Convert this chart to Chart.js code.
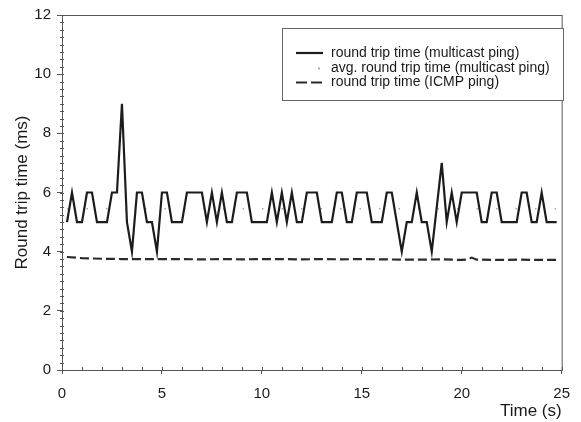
<!DOCTYPE html>
<html>
<head>
<meta charset="utf-8">
<script src="https://cdn.jsdelivr.net/npm/chart.js@4.4.1/dist/chart.umd.min.js"></script>
<style>
    html, body { margin: 0; padding: 0; background: #fff; }
    #wrap { width: 581px; height: 422px; }
</style>
</head>
<body>
<div id="wrap"><canvas id="rttChart" width="581" height="422"></canvas></div>
<script>
// multicast ping round trip time (ms), sampled roughly every 0.25 s
const multicastTime = [0.25, 0.5, 0.75, 1, 1.25, 1.5, 1.75, 2, 2.25, 2.5, 2.75, 3, 3.25, 3.5, 3.75, 4,
    4.25, 4.5, 4.75, 5, 5.25, 5.5, 5.75, 6, 6.25, 6.5, 6.75, 7, 7.25, 7.5, 7.75, 8,
    8.25, 8.5, 8.75, 9, 9.25, 9.5, 9.75, 10, 10.25, 10.5, 10.75, 11, 11.25, 11.5, 11.75, 12,
    12.25, 12.5, 12.75, 13, 13.25, 13.5, 13.75, 14, 14.25, 14.5, 14.75, 15, 15.25, 15.5, 15.75, 16,
    16.25, 16.5, 17, 17.25, 17.5, 17.75, 18, 18.25, 18.5, 19, 19.25, 19.5, 19.75, 20,
    20.25, 20.5, 20.75, 21, 21.25, 21.5, 21.75, 22, 22.25, 22.5, 22.75, 23, 23.25, 23.5, 23.75, 24,
    24.25, 24.5, 24.75];
const multicastRtt = [5, 6, 5, 5, 6, 6, 5, 5, 5, 6, 6, 9, 5, 4, 6, 6,
    5, 5, 4, 6, 6, 5, 5, 5, 6, 6, 6, 6, 5, 6, 5, 6,
    5, 5, 6, 6, 6, 5, 5, 5, 5, 6, 5, 6, 5, 6, 5, 5,
    6, 6, 6, 5, 5, 5, 6, 6, 5, 5, 6, 6, 6, 5, 5, 5,
    6, 6, 4, 5, 5, 6, 5, 5, 4, 7, 5, 6, 5, 6,
    6, 6, 6, 5, 5, 6, 6, 5, 5, 5, 5, 6, 6, 5, 5, 6,
    5, 5, 5];

// average multicast round trip time
const avgTime = [0.25, 24.75];
const avgRtt = [5.45, 5.45];

// ICMP ping round trip time (ms)
const icmpTime = [0.25, 1, 2, 3, 4, 5, 6, 7, 8, 9, 10, 11, 12, 13, 14, 15, 16, 17, 18, 19, 20,
    20.25, 20.5, 20.75, 21, 22, 23, 24, 24.75];
const icmpRtt = [3.82, 3.78, 3.76, 3.75, 3.75, 3.75, 3.75, 3.74, 3.75, 3.74, 3.75, 3.75, 3.74, 3.75,
    3.74, 3.75, 3.74, 3.73, 3.73, 3.74, 3.72, 3.73, 3.8, 3.73, 3.73, 3.72, 3.73, 3.72, 3.72];

const xTicks = [0, 5, 10, 15, 20, 25];
const yTicks = [0, 2, 4, 6, 8, 10, 12];

const legendLabels = [
    'round trip time (multicast ping)',
    'avg. round trip time (multicast ping)',
    'round trip time (ICMP ping)'
];

const FONT = '"Liberation Sans", Arial, sans-serif';
const INK = '#1a1a1a';
const AXIS = '#555';

const toPoints = (xs, ys) => xs.map((x, i) => ({ x: x, y: ys[i] }));

// frame, minor ticks and the boxed legend
const decorPlugin = {
    id: 'decor',
    afterDraw(chart) {
        const ctx = chart.ctx;
        const a = chart.chartArea;
        const xs = chart.scales.x;
        const ys = chart.scales.y;
        ctx.save();
        ctx.strokeStyle = AXIS;
        ctx.lineWidth = 1;
        ctx.strokeRect(a.left + 0.5, a.top + 0.5, a.right - a.left, a.bottom - a.top);

        // minor ticks
        ctx.beginPath();
        for (let v = 0; v <= 25; v += 1) {
            const px = Math.round(xs.getPixelForValue(v)) + 0.5;
            ctx.moveTo(px, a.bottom);
            ctx.lineTo(px, a.bottom - 3);
        }
        for (let v = 0; v <= 12; v += 0.25) {
            const py = Math.round(ys.getPixelForValue(v)) + 0.5;
            ctx.moveTo(a.left - 2, py);
            ctx.lineTo(a.left + 2, py);
        }
        ctx.stroke();

        // legend box
        const bx = 282, by = 28, bw = 281, bh = 72;
        ctx.fillStyle = '#fff';
        ctx.fillRect(bx, by, bw, bh);
        ctx.strokeStyle = '#666';
        ctx.strokeRect(bx + 0.5, by + 0.5, bw, bh);

        const rows = [53, 68.5, 82.5];
        const sets = chart.data.datasets;
        ctx.font = '14px ' + FONT;
        ctx.textBaseline = 'middle';
        rows.forEach((ry, i) => {
            const ds = sets[i];
            ctx.strokeStyle = ds.borderColor;
            ctx.lineWidth = ds.borderWidth;
            ctx.setLineDash(i === 2 ? [11, 4] : []);
            if (i === 1) {
                ctx.fillStyle = ds.borderColor;
                ctx.fillRect(318, ry - 1, 2, 2);
            } else {
                ctx.beginPath();
                ctx.moveTo(296, ry);
                ctx.lineTo(323, ry);
                ctx.stroke();
            }
            ctx.setLineDash([]);
            ctx.fillStyle = INK;
            ctx.fillText(legendLabels[i], 331, ry);
        });
        ctx.restore();
    }
};

new Chart(document.getElementById('rttChart'), {
    type: 'line',
    data: {
        datasets: [{
            label: legendLabels[0],
            data: toPoints(multicastTime, multicastRtt),
            borderColor: '#1c1c1c',
            borderWidth: 2.2,
            pointRadius: 0,
            tension: 0
        }, {
            label: legendLabels[1],
            data: toPoints(avgTime, avgRtt),
            borderColor: '#a8a8a8',
            borderWidth: 1.5,
            borderDash: [1.5, 18],
            pointRadius: 0
        }, {
            label: legendLabels[2],
            data: toPoints(icmpTime, icmpRtt),
            borderColor: '#2a2a2a',
            borderWidth: 2.2,
            borderDash: [9, 4],
            pointRadius: 0,
            tension: 0
        }]
    },
    options: {
        responsive: false,
        animation: false,
        parsing: false,
        layout: { padding: { top: 13, right: 9, left: 0, bottom: 0 } },
        plugins: { legend: { display: false }, tooltip: { enabled: false } },
        scales: {
            x: {
                type: 'linear',
                min: 0,
                max: 25,
                afterBuildTicks: s => { s.ticks = xTicks.map(v => ({ value: v })); },
                afterFit: s => { s.height = 52; },
                ticks: { color: INK, font: { family: FONT, size: 15 }, padding: 11, maxRotation: 0 },
                grid: { drawOnChartArea: false, drawTicks: true, tickLength: 4, color: AXIS },
                border: { color: AXIS },
                title: {
                    display: true, text: 'Time (s)', align: 'end', color: INK,
                    font: { family: FONT, size: 17 }, padding: { top: 0, bottom: 0 }
                }
            },
            y: {
                min: 0,
                max: 12,
                afterBuildTicks: s => { s.ticks = yTicks.map(v => ({ value: v })); },
                afterFit: s => { s.width = 62; },
                ticks: { color: INK, font: { family: FONT, size: 15 }, padding: 6 },
                grid: { drawOnChartArea: false, drawTicks: true, tickLength: 5, color: AXIS },
                border: { color: AXIS },
                title: {
                    display: true, text: 'Round trip time (ms)', color: INK,
                    font: { family: FONT, size: 17 }, padding: { top: 12, bottom: 0 }
                }
            }
        }
    },
    plugins: [decorPlugin]
});
</script>
</body>
</html>
